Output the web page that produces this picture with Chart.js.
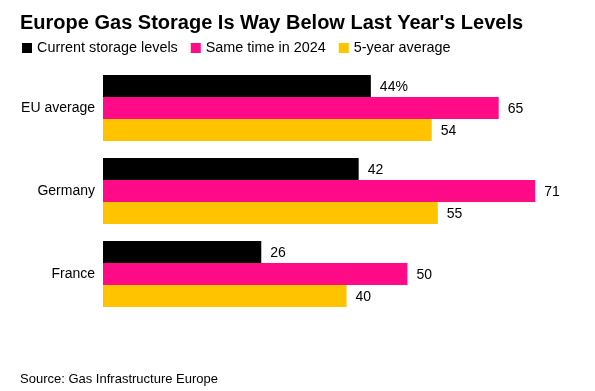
<!DOCTYPE html>
<html>
<head>
<meta charset="utf-8">
<script src="https://cdn.jsdelivr.net/npm/chart.js@4"></script>
<style>
  html, body { margin: 0; padding: 0; background: #fff; }
  #wrap { position: relative; width: 595px; height: 391px; }
</style>
</head>
<body>
<div id="wrap"><canvas id="StorageChart" width="595" height="391"></canvas></div>
<script>
const titleText = "Europe Gas Storage Is Way Below Last Year's Levels";
const sourceText = 'Source: Gas Infrastructure Europe';

const countries = ['EU average', 'Germany', 'France'];
const seriesNames = ['Current storage levels', 'Same time in 2024', '5-year average'];
const currentLevels = [44, 42, 26];
const lastYear = [65, 71, 50];
const fiveYearAvg = [54, 55, 40];
const seriesColors = ['#000000', '#FF0A87', '#FFC300'];

const FONT = "'Liberation Sans', Arial, sans-serif";

// title, legend, source and value labels drawn on the canvas
const annotate = {
  id: 'annotate',
  afterDraw(chart) {
    const ctx = chart.ctx;
    ctx.save();
    ctx.fillStyle = '#000';
    ctx.textAlign = 'left';
    ctx.textBaseline = 'alphabetic';

    ctx.font = 'bold 20px ' + FONT;
    ctx.fillText(titleText, 20, 29);

    // legend
    ctx.font = '14.4px ' + FONT;
    ctx.textBaseline = 'middle';
    let x = 22;
    chart.data.datasets.forEach(ds => {
      ctx.fillStyle = ds.backgroundColor;
      ctx.fillRect(x, 43, 10, 10);
      ctx.fillStyle = '#000';
      ctx.fillText(ds.label, x + 15, 48.5);
      x += 15 + ctx.measureText(ds.label).width + 13;
    });

    // value labels
    ctx.font = '14px ' + FONT;
    chart.data.datasets.forEach((ds, di) => {
      chart.getDatasetMeta(di).data.forEach((bar, i) => {
        let txt = String(ds.data[i]);
        if (di === 0 && i === 0) txt += '%';
        ctx.fillText(txt, bar.x + 9, bar.y + 1);
      });
    });

    ctx.font = '13px ' + FONT;
    ctx.textBaseline = 'alphabetic';
    ctx.fillText(sourceText, 20, 383);
    ctx.restore();
  }
};

new Chart(document.getElementById('StorageChart'), {
  type: 'bar',
  data: {
    labels: countries,
    datasets: [
      { label: seriesNames[0], data: currentLevels, backgroundColor: seriesColors[0] },
      { label: seriesNames[1], data: lastYear, backgroundColor: seriesColors[1] },
      { label: seriesNames[2], data: fiveYearAvg, backgroundColor: seriesColors[2] }
    ]
  },
  options: {
    indexAxis: 'y',
    responsive: false,
    animation: false,
    devicePixelRatio: 1,
    layout: { padding: { top: 66.5, bottom: 75.5, left: 0, right: 5 } },
    datasets: {
      bar: { categoryPercentage: 0.795, barPercentage: 1, borderWidth: 0 }
    },
    plugins: {
      legend: { display: false },
      tooltip: { enabled: false }
    },
    scales: {
      x: { display: false, min: 0, max: 80 },
      y: {
        grid: { display: false, drawTicks: false },
        border: { display: false },
        ticks: { color: '#000', font: { family: FONT, size: 14 }, padding: 8 },
        afterFit: s => { s.width = 103; }
      }
    }
  },
  plugins: [annotate]
});
</script>
</body>
</html>
